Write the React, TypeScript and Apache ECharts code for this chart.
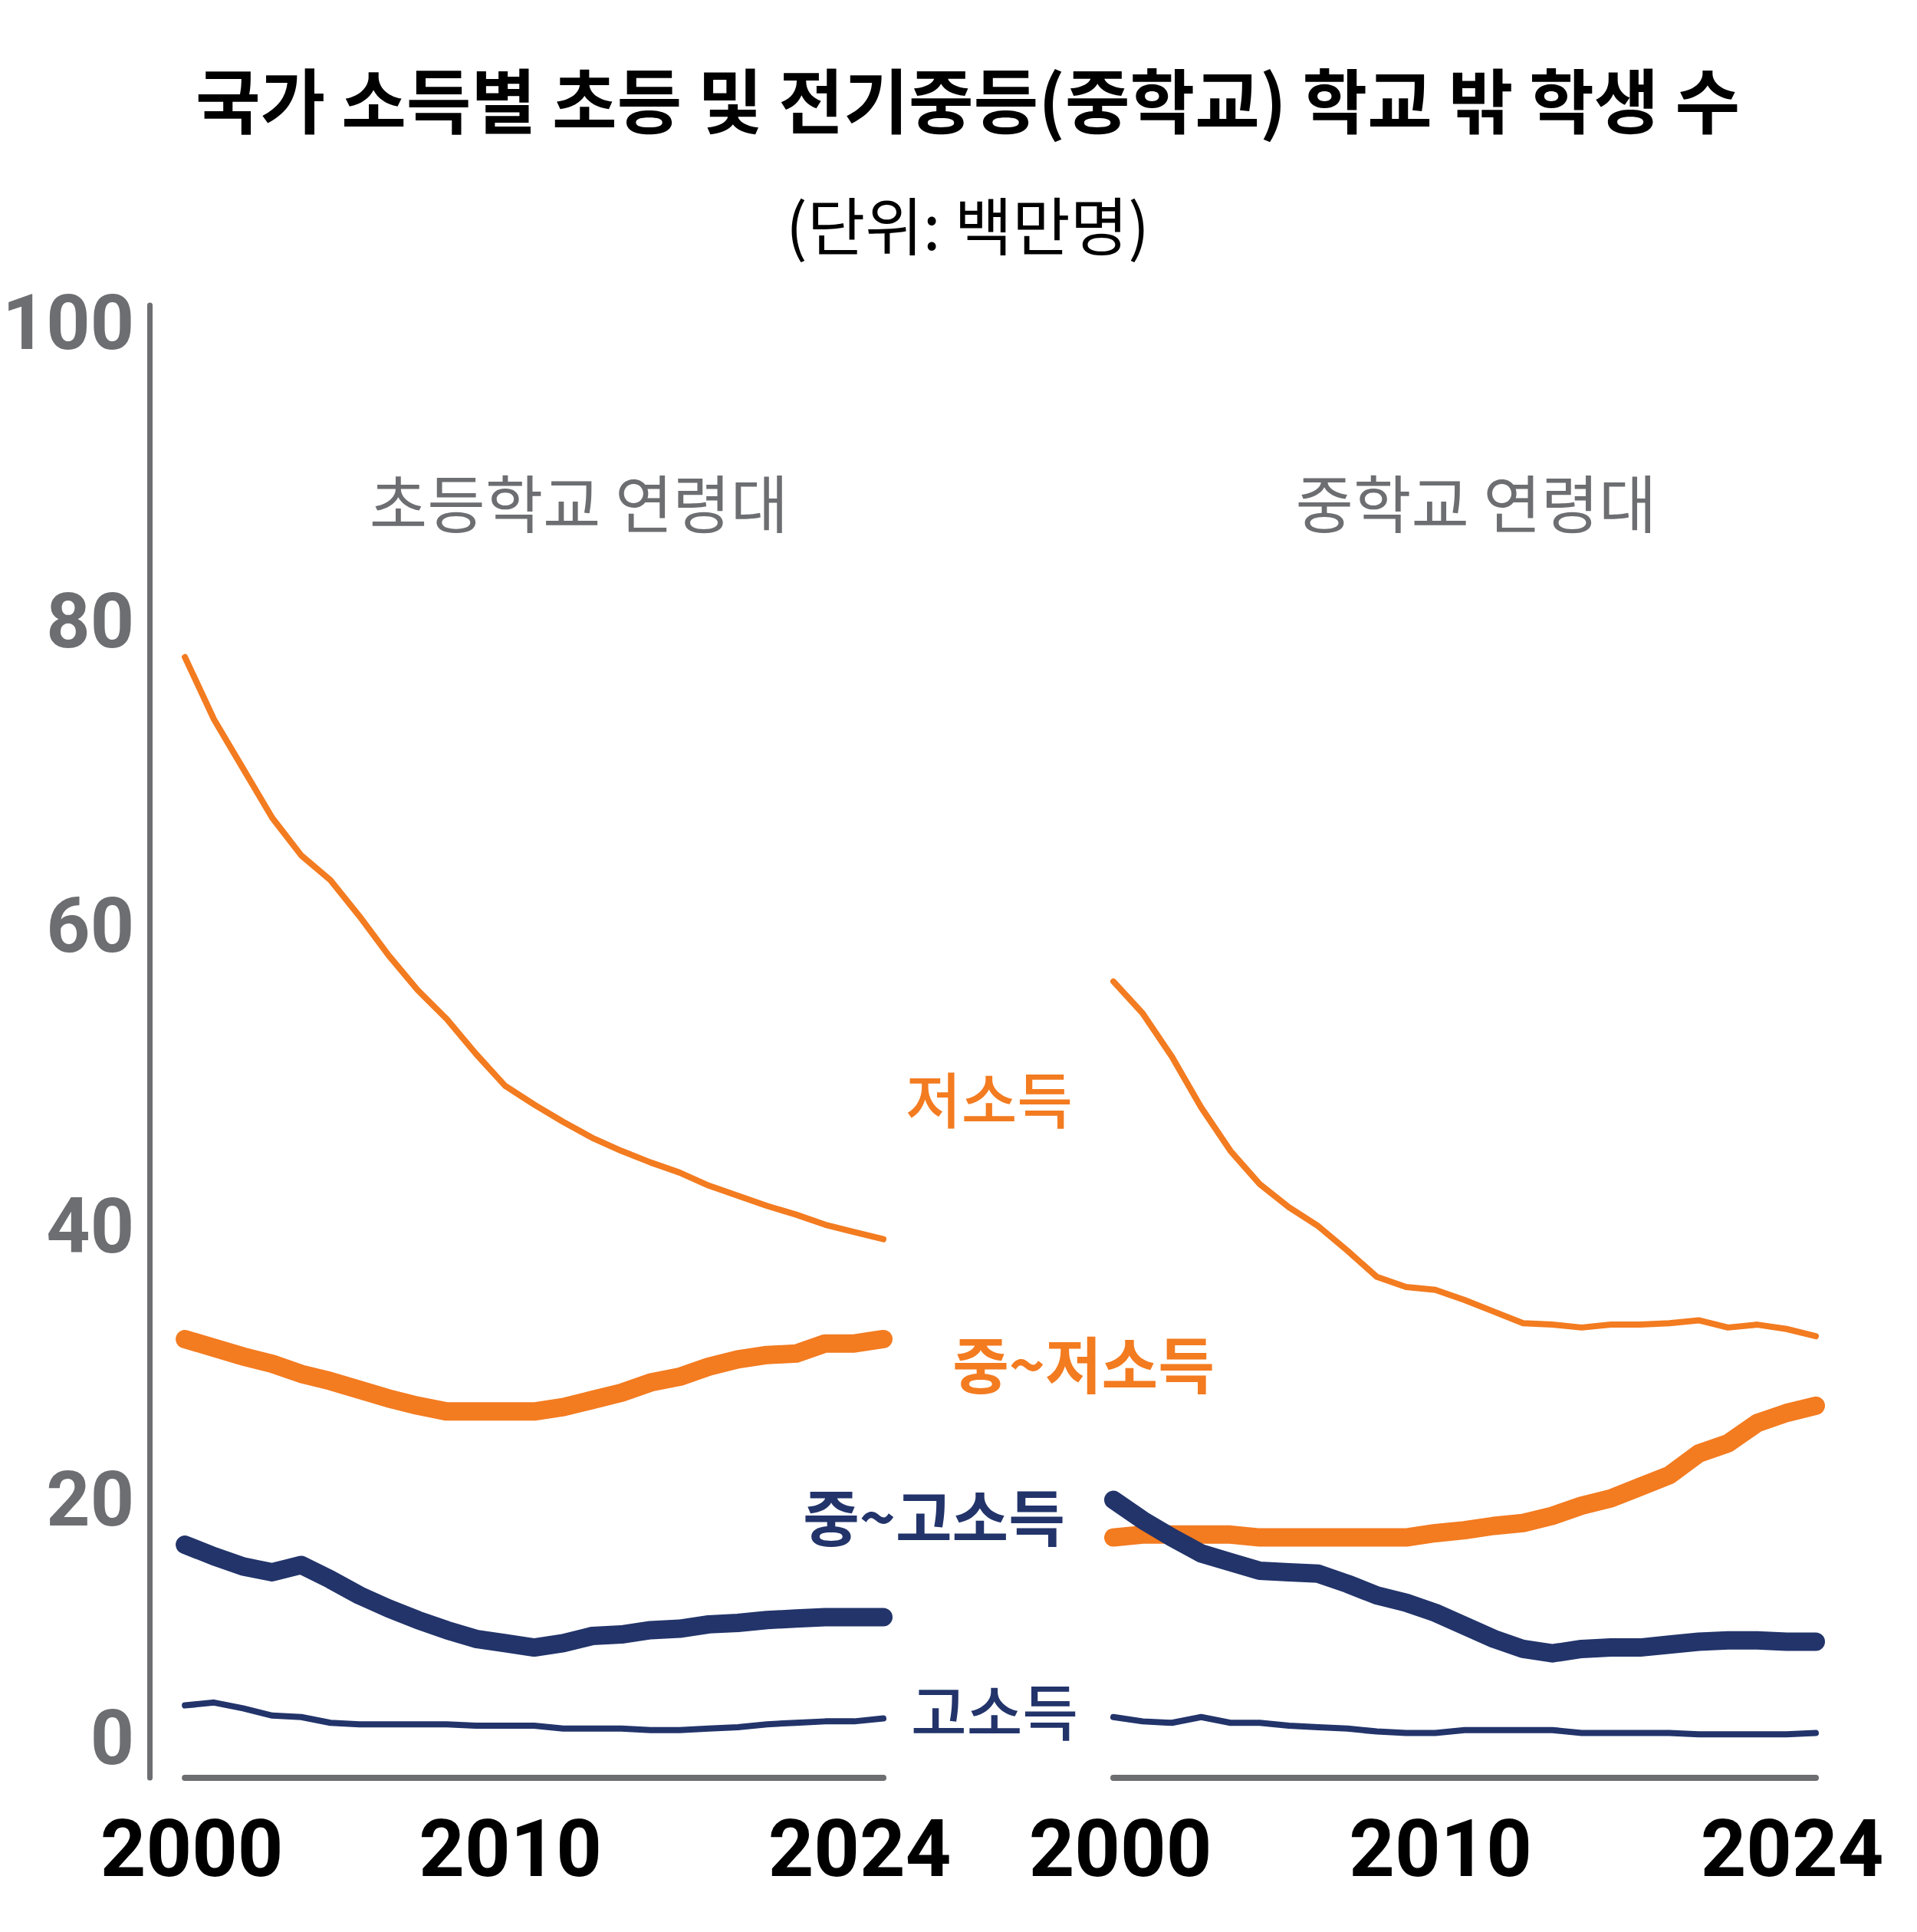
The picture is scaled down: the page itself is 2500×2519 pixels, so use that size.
import { useEffect, useRef } from "react";
import * as echarts from "echarts";

// ---------- data ----------
const years = [
  "2000", "2001", "2002", "2003", "2004", "2005", "2006", "2007", "2008", "2009",
  "2010", "2011", "2012", "2013", "2014", "2015", "2016", "2017", "2018", "2019",
  "2020", "2021", "2022", "2023", "2024",
];
const xTickLabels = ["2000", "2010", "2024"];
const yTicks = [0, 20, 40, 60, 80, 100];

const panelTitles = ["초등학교 연령대", "중학교 연령대"];
const seriesNames = ["저소득", "중~저소득", "중~고소득", "고소득"];

// primary school age (millions)
const primaryLow = [77.4, 73.1, 69.7, 66.3, 63.7, 62.0, 59.5, 56.8, 54.4, 52.4, 50.0, 47.8, 46.5, 45.3, 44.2, 43.3, 42.5, 41.8, 40.9, 40.2, 39.5, 38.9, 38.2, 37.7, 37.2];
const primaryLowerMiddle = [30.3, 29.7, 29.1, 28.6, 27.9, 27.4, 26.8, 26.2, 25.7, 25.3, 25.3, 25.3, 25.3, 25.6, 26.1, 26.6, 27.3, 27.7, 28.4, 28.9, 29.2, 29.3, 30.0, 30.0, 30.3];
const primaryUpperMiddle = [16.1, 15.3, 14.6, 14.2, 14.7, 13.7, 12.6, 11.7, 10.9, 10.2, 9.6, 9.3, 9.0, 9.3, 9.8, 9.9, 10.2, 10.3, 10.6, 10.7, 10.9, 11.0, 11.1, 11.1, 11.1];
const primaryHigh = [5.0, 5.2, 4.8, 4.3, 4.2, 3.8, 3.7, 3.7, 3.7, 3.7, 3.6, 3.6, 3.6, 3.4, 3.4, 3.4, 3.3, 3.3, 3.4, 3.5, 3.7, 3.8, 3.9, 3.9, 4.1];

// lower secondary school age (millions)
const secondaryLow = [55.0, 52.8, 49.8, 46.3, 43.3, 41.0, 39.4, 38.1, 36.4, 34.6, 33.9, 33.7, 33.0, 32.2, 31.4, 31.3, 31.1, 31.3, 31.3, 31.4, 31.6, 31.1, 31.3, 31.0, 30.5];
const secondaryLowerMiddle = [16.6, 16.8, 16.8, 16.8, 16.8, 16.6, 16.6, 16.6, 16.6, 16.6, 16.6, 16.9, 17.1, 17.4, 17.6, 18.1, 18.8, 19.3, 20.1, 20.9, 22.4, 23.1, 24.5, 25.2, 25.7];
const secondaryUpperMiddle = [19.2, 17.8, 16.6, 15.5, 14.9, 14.3, 14.2, 14.1, 13.4, 12.6, 12.1, 11.4, 10.5, 9.6, 8.9, 8.6, 8.9, 9.0, 9.0, 9.2, 9.4, 9.5, 9.5, 9.4, 9.4];
const secondaryHigh = [4.2, 3.9, 3.8, 4.2, 3.8, 3.8, 3.6, 3.5, 3.4, 3.2, 3.1, 3.1, 3.3, 3.3, 3.3, 3.3, 3.1, 3.1, 3.1, 3.1, 3.0, 3.0, 3.0, 3.0, 3.1];

// ---------- styles ----------
const ORANGE = "#F37B20";
const NAVY = "#22346A";
const GRAY = "#6D6E71";
const KR = "'Noto Sans CJK KR', 'Noto Sans', sans-serif";
const NUM = "Roboto, 'Noto Sans', sans-serif";

// y axis runs a little above the top tick, as in the reference
const Y_MAX = 101.7;

// label nudges (px) to follow the reference's hand placement
const yLabelShift: Record<string, number> = { "0": -53, "20": 14, "40": 36, "60": 21, "80": 2, "100": -10 };
const xLabelShift: Record<string, number> = { "2000": 9, "2010": 45, "2024": -31 };

function yRich() {
  const rich: Record<string, any> = {};
  yTicks.forEach((t) => {
    const d = yLabelShift[String(t)] || 0;
    rich["t" + t] = {
      fontFamily: NUM, fontSize: 100, fontWeight: "bold", color: GRAY,
      padding: d >= 0 ? [2 * d, 0, 0, 0] : [0, 0, -2 * d, 0],
    };
  });
  return rich;
}
function xRich() {
  const rich: Record<string, any> = {};
  xTickLabels.forEach((t) => {
    const d = xLabelShift[t] || 0;
    rich["x" + t] = {
      fontFamily: NUM, fontSize: 104, fontWeight: "bold", color: "#000",
      padding: d >= 0 ? [0, 0, 0, 2 * d] : [0, -2 * d, 0, 0],
    };
  });
  return rich;
}

function xAxis(gridIndex: number) {
  return {
    type: "category", gridIndex, data: years, boundaryGap: false,
    axisLine: { show: true, onZero: false, lineStyle: { color: GRAY, width: 8, cap: "round" } },
    axisTick: { show: false },
    splitLine: { show: false },
    axisLabel: {
      interval: (_i: number, v: string) => xTickLabels.includes(v),
      margin: 40,
      formatter: (v: string) => `{x${v}|${v}}`,
      rich: xRich(),
    },
  };
}

function line(name: string, data: number[], color: string, width: number, idx: number) {
  return {
    type: "line", name, data, xAxisIndex: idx, yAxisIndex: idx,
    showSymbol: false, symbol: "none", smooth: false,
    lineStyle: { color, width, cap: "round", join: "round" },
    emphasis: { disabled: true }, silent: true,
  };
}

function text(t: string, x: number, y: number, size: number, weight: string, fill: string) {
  return {
    type: "text", x, y, silent: true,
    style: { text: t, fontSize: size, fontWeight: weight, fontFamily: KR, fill, align: "center", verticalAlign: "middle" },
  };
}

const GRID_TOP = 398;
const GRID_H = 2318 - GRID_TOP;

const option = {
  animation: false,
  backgroundColor: "#ffffff",
  grid: [
    { left: 237, top: GRID_TOP, width: 915, height: GRID_H },
    { left: 1452, top: GRID_TOP, width: 916, height: GRID_H },
  ],
  xAxis: [xAxis(0), xAxis(1)],
  yAxis: [
    {
      type: "value", gridIndex: 0, min: 0, max: Y_MAX, offset: 46,
      axisLine: { show: true, lineStyle: { color: GRAY, width: 7, cap: "round" } },
      axisTick: { show: false },
      splitLine: { show: false },
      axisLabel: {
        customValues: yTicks,
        margin: 20,
        formatter: (v: number) => `{t${v}|${v}}`,
        rich: yRich(),
      },
    },
    { type: "value", gridIndex: 1, min: 0, max: Y_MAX, show: false, splitLine: { show: false } },
  ],
  series: [
    line(seriesNames[0], primaryLow, ORANGE, 8, 0),
    line(seriesNames[1], primaryLowerMiddle, ORANGE, 24, 0),
    line(seriesNames[2], primaryUpperMiddle, NAVY, 24, 0),
    line(seriesNames[3], primaryHigh, NAVY, 8, 0),
    line(seriesNames[0], secondaryLow, ORANGE, 8, 1),
    line(seriesNames[1], secondaryLowerMiddle, ORANGE, 24, 1),
    line(seriesNames[2], secondaryUpperMiddle, NAVY, 24, 1),
    line(seriesNames[3], secondaryHigh, NAVY, 8, 1),
  ],
  graphic: [
    text("국가 소득별 초등 및 전기중등(중학교) 학교 밖 학생 수", 1262, 126, 92, "bold", "#000"),
    text("(단위: 백만명)", 1262, 290, 82, "normal", "#000"),
    text(panelTitles[0], 755, 652, 82, "normal", GRAY),
    text(panelTitles[1], 1925, 652, 82, "normal", GRAY),
    text(seriesNames[0], 1290, 1430, 79, "500", ORANGE),
    text(seriesNames[1], 1413, 1775, 80, "bold", ORANGE),
    text(seriesNames[2], 1218, 1974, 80, "bold", NAVY),
    text(seriesNames[3], 1297, 2228, 79, "500", NAVY),
  ],
};

export default function App() {
  const ref = useRef<HTMLDivElement>(null);
  useEffect(() => {
    document.body.style.margin = "0";
    const chart = echarts.init(ref.current!, null, { renderer: "svg" });
    chart.setOption(option as any);
    return () => chart.dispose();
  }, []);
  return <div ref={ref} style={{ width: 2500, height: 2519 }} />;
}
